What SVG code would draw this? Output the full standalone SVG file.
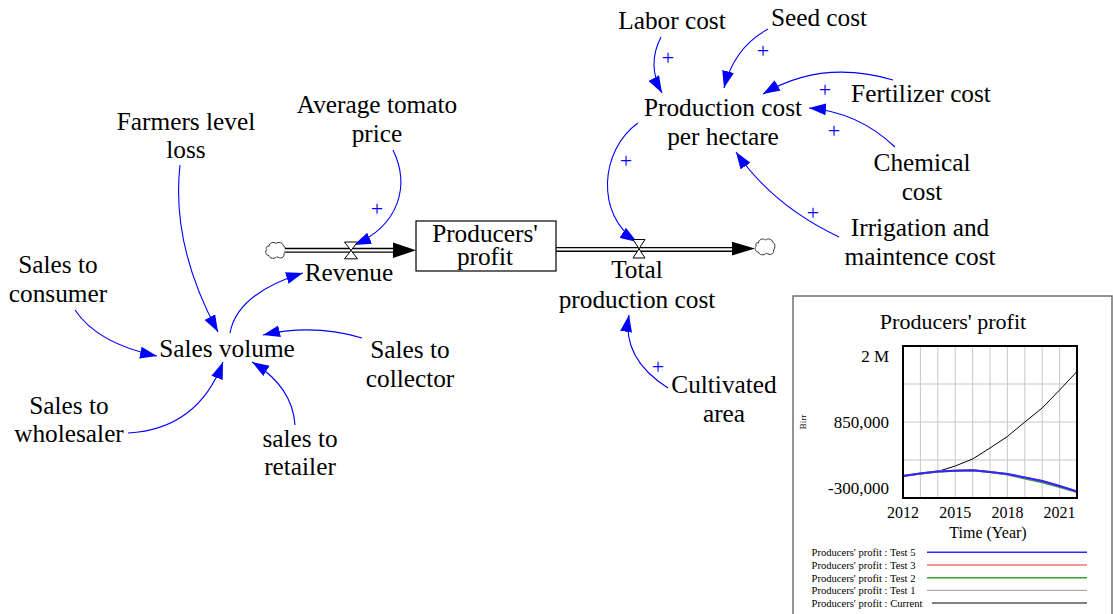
<svg xmlns="http://www.w3.org/2000/svg" width="1113" height="614" viewBox="0 0 1113 614">
  <style>
    .lbl { font-family: "Liberation Serif", "Times New Roman", serif; font-size: 25.3px; fill: #000; text-anchor: middle; }
    .pol { font-family: "Liberation Serif", "Times New Roman", serif; font-size: 22px; fill: #0000ff; text-anchor: middle; }
    .link { fill: none; stroke: #0000ff; stroke-width: 1.1; marker-end: url(#ah); }
    .pipe-o { fill: none; stroke: #000; stroke-width: 5; }
    .pipe-i { fill: none; stroke: #fff; stroke-width: 2.2; }
    .valve { fill: #fff; stroke: #000; stroke-width: 1; stroke-linejoin: miter; }
    .cloud { fill: #fff; stroke: #333; stroke-width: 1; }
    .ct { font-family: "Liberation Serif", "Times New Roman", serif; fill: #000; }
    .grid { stroke: #c8c8c8; stroke-width: 1; fill: none; }
    .leg { font-family: "Liberation Serif", "Times New Roman", serif; font-size: 10.6px; fill: #000; }
  </style>
  <defs>
    <marker id="ah" markerUnits="userSpaceOnUse" markerWidth="18" markerHeight="13" refX="17" refY="6.5" orient="auto">
      <path d="M0,0.5 L17,6.5 L0,12.5 Z" fill="#0000ff"/>
    </marker>
    <path id="cloudShape" d="M4,5 C4,1 9,0 11,2 C13,0 18,1 18,4 C21,5 21,10 19,12 C20,16 15,18 12,15 C10,18 4,17 4,14 C0,14 0,9 2,8 C0,6 2,4 4,5 Z"/>
  </defs>
  <rect width="1113" height="614" fill="#fff"/>

  <!-- causal links -->
  <g id="connectors">
    <path class="link" d="M661,37 Q646.5,65 662,93"/>
    <path class="link" d="M768,29 Q734,47.5 724,88"/>
    <path class="link" d="M893,80 Q822,59 763,94"/>
    <path class="link" d="M895,147 Q858,112 809,108"/>
    <path class="link" d="M839,237 Q772.5,205.5 736,152"/>
    <path class="link" d="M638,123 C600,150 595,215 637,242"/>
    <path class="link" d="M668,388 Q621.5,358.5 629,315"/>
    <path class="link" d="M393,150 C410,185 400,225 354,245"/>
    <path class="link" d="M180,165 Q171,245.5 218,332"/>
    <path class="link" d="M230,333 Q237,293.5 303,273"/>
    <path class="link" d="M75,310 Q97.4,343.6 157,356"/>
    <path class="link" d="M362,338 Q313.5,323.5 263,335"/>
    <path class="link" d="M128,433 Q197.9,429.1 223,362"/>
    <path class="link" d="M295,425 Q292.5,386.5 252,362"/>
    <text class="pol" x="668" y="65">+</text>
    <text class="pol" x="763" y="58">+</text>
    <text class="pol" x="825" y="97">+</text>
    <text class="pol" x="834" y="138">+</text>
    <text class="pol" x="813" y="220">+</text>
    <text class="pol" x="626" y="168">+</text>
    <text class="pol" x="658" y="374">+</text>
    <text class="pol" x="377" y="216">+</text>
  </g>

  <!-- flows -->
  <g id="flow-revenue">
    <use href="#cloudShape" class="cloud" transform="translate(265,241.5)"/>
    <path class="pipe-o" d="M285,250.3 H394"/>
    <path class="pipe-i" d="M285,250.3 H394"/>
    <path d="M393,242.5 L416,250.3 L393,258 Z" fill="#000"/>
    <path class="valve" d="M344.5,242 H357.5 L344.5,258.8 H357.5 Z"/>
    <text class="lbl" x="349" y="281">Revenue</text>
  </g>
  <g id="flow-total-production-cost">
    <path class="pipe-o" d="M556,249.4 H733"/>
    <path class="pipe-i" d="M556,249.4 H733"/>
    <path d="M732,241.7 L755,248.6 L732,255.5 Z" fill="#000"/>
    <use href="#cloudShape" class="cloud" transform="translate(754.5,238)"/>
    <path class="valve" d="M633,239.5 H645 L633,258 H645 Z"/>
    <text class="lbl" x="637" y="278">Total</text>
    <text class="lbl" x="637" y="308">production cost</text>
  </g>

  <!-- stock -->
  <g id="producers-profit">
    <rect x="416" y="221" width="140" height="50" fill="#fff" stroke="#000" stroke-width="1.2"/>
    <text class="lbl" x="485" y="242" font-size="24">Producers'</text>
    <text class="lbl" x="485" y="265" font-size="24">profit</text>
  </g>

  <!-- auxiliaries -->
  <g id="labor-cost"><text class="lbl" x="672" y="29">Labor cost</text></g>
  <g id="seed-cost"><text class="lbl" x="819" y="26">Seed cost</text></g>
  <g id="production-cost-per-hectare">
    <text class="lbl" x="723" y="116">Production cost</text>
    <text class="lbl" x="723" y="145">per hectare</text>
  </g>
  <g id="fertilizer-cost"><text class="lbl" x="921" y="102">Fertilizer cost</text></g>
  <g id="chemical-cost">
    <text class="lbl" x="922" y="171">Chemical</text>
    <text class="lbl" x="922" y="200">cost</text>
  </g>
  <g id="irrigation-cost">
    <text class="lbl" x="920" y="236">Irrigation and</text>
    <text class="lbl" x="920" y="265">maintence cost</text>
  </g>
  <g id="cultivated-area">
    <text class="lbl" x="724" y="393">Cultivated</text>
    <text class="lbl" x="724" y="422">area</text>
  </g>
  <g id="average-tomato-price">
    <text class="lbl" x="377" y="113">Average tomato</text>
    <text class="lbl" x="377" y="142">price</text>
  </g>
  <g id="farmers-level-loss">
    <text class="lbl" x="186" y="130">Farmers level</text>
    <text class="lbl" x="186" y="158">loss</text>
  </g>
  <g id="sales-to-consumer">
    <text class="lbl" x="58" y="273">Sales to</text>
    <text class="lbl" x="58" y="302">consumer</text>
  </g>
  <g id="sales-volume"><text class="lbl" x="227" y="357">Sales volume</text></g>
  <g id="sales-to-collector">
    <text class="lbl" x="410" y="358">Sales to</text>
    <text class="lbl" x="410" y="387">collector</text>
  </g>
  <g id="sales-to-wholesaler">
    <text class="lbl" x="69" y="414">Sales to</text>
    <text class="lbl" x="69" y="442">wholesaler</text>
  </g>
  <g id="sales-to-retailer">
    <text class="lbl" x="300" y="447">sales to</text>
    <text class="lbl" x="300" y="475">retailer</text>
  </g>

  <!-- graph of Producers' profit -->
  <g id="profit-graph">
    <rect x="793" y="296" width="319" height="330" fill="#fff" stroke="#707070" stroke-width="1.5"/>
    <text class="ct" x="953" y="329" font-size="22" text-anchor="middle">Producers' profit</text>
    <g class="grid">
      <path d="M920.4,346V498 M937.8,346V498 M955.2,346V498 M972.6,346V498 M990,346V498 M1007.4,346V498 M1024.8,346V498 M1042.2,346V498 M1059.6,346V498"/>
      <path d="M903,384H1077 M903,422H1077 M903,460H1077"/>
    </g>
    <polyline fill="none" stroke="#000" stroke-width="1" points="903,476 920.4,474 937.8,471.5 955.2,466 972.6,459 990,448 1007.4,436.5 1024.8,422 1042.2,408 1059.6,390 1077,371.5"/>
    <polyline fill="none" stroke="#999" stroke-width="1" points="903,476 920.4,473.5 937.8,471.5 955.2,470.8 972.6,470.3 990,472 1007.4,474 1024.8,477.5 1042.2,481 1059.6,486 1077,491.5"/>
    <polyline fill="none" stroke="#3a9a3a" stroke-width="2" points="903,476 920.4,473.5 937.8,471.5 955.2,470.8 972.6,470.3 990,472 1007.4,474.5 1024.8,478.5 1042.2,482.3 1059.6,487 1077,492"/>
    <polyline fill="none" stroke="#f07070" stroke-width="2" points="903,476 920.4,473.5 937.8,471.5 955.2,470.8 972.6,470.3 990,472 1007.4,474 1024.8,477.5 1042.2,481 1059.6,486 1077,491.5"/>
    <polyline fill="none" stroke="#2a2aff" stroke-width="2" points="903,476 920.4,473.5 937.8,471.5 955.2,470.8 972.6,470.3 990,472 1007.4,474 1024.8,477.5 1042.2,481 1059.6,486 1077,491.5"/>
    <rect x="903" y="346" width="174" height="152" fill="none" stroke="#000" stroke-width="2"/>
    <g class="ct" font-size="17" text-anchor="end">
      <text x="889" y="362">2 M</text>
      <text x="889" y="428">850,000</text>
      <text x="889" y="494">-300,000</text>
    </g>
    <text class="ct" font-size="9" text-anchor="middle" transform="translate(806,422) rotate(-90)">Birr</text>
    <g class="ct" font-size="16" text-anchor="middle">
      <text x="903" y="518">2012</text>
      <text x="955.2" y="518">2015</text>
      <text x="1007.4" y="518">2018</text>
      <text x="1059.6" y="518">2021</text>
      <text x="988" y="538">Time (Year)</text>
    </g>
    <g class="leg">
      <text x="811.5" y="556">Producers' profit : Test 5</text>
      <text x="811.5" y="569">Producers' profit : Test 3</text>
      <text x="811.5" y="581.5">Producers' profit : Test 2</text>
      <text x="811.5" y="594">Producers' profit : Test 1</text>
      <text x="811.5" y="607">Producers' profit : Current</text>
    </g>
    <path d="M927,552.3H1087" stroke="#2a2aff" stroke-width="1.6"/>
    <path d="M927,565H1087" stroke="#f07070" stroke-width="1.6"/>
    <path d="M927,577.7H1087" stroke="#3a9a3a" stroke-width="1.6"/>
    <path d="M927,590.3H1087" stroke="#999" stroke-width="1"/>
    <path d="M932,603H1087" stroke="#000" stroke-width="1"/>
  </g>
</svg>
